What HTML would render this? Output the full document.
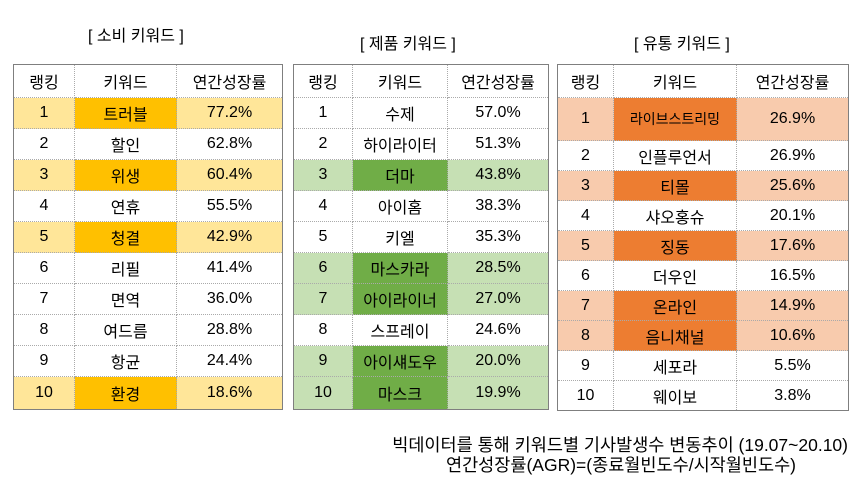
<!DOCTYPE html>
<html><head><meta charset="utf-8"><style>
body{margin:0;width:862px;height:496px;background:#fff;position:relative;font-family:"Liberation Sans","Noto Sans CJK KR",sans-serif;color:#000;overflow:hidden}
.t{position:absolute;font-size:16px}
table{position:absolute;border-collapse:collapse;table-layout:fixed;border:1px solid #7f7f7f;font-size:16px;font-family:"Liberation Sans","Noto Sans CJK KR",sans-serif}
td{text-align:center;padding:0;border:1px dotted #aaa;}
.y td{background:#FFE699}.y td.k{background:#FFC000}
.g td{background:#C6E0B4}.g td.k{background:#70AD47}
.o td{background:#F8CBAD}.o td.k{background:#ED7D31}
</style></head><body>
<div class="t" style="left:88px;top:22px">[ 소비 키워드 ]</div>
<div class="t" style="left:360px;top:30px">[ 제품 키워드 ]</div>
<div class="t" style="left:634px;top:30px">[ 유통 키워드 ]</div>

<table style="left:13px;top:64px;width:269px">
<colgroup><col style="width:61px"><col style="width:102px"><col style="width:106px"></colgroup>
<tr style="height:33px"><td>랭킹</td><td>키워드</td><td>연간성장률</td></tr>
<tr class="y" style="height:31px"><td>1</td><td class="k">트러블</td><td>77.2%</td></tr>
<tr style="height:31px"><td>2</td><td>할인</td><td>62.8%</td></tr>
<tr class="y" style="height:31px"><td>3</td><td class="k">위생</td><td>60.4%</td></tr>
<tr style="height:31px"><td>4</td><td>연휴</td><td>55.5%</td></tr>
<tr class="y" style="height:31px"><td>5</td><td class="k">청결</td><td>42.9%</td></tr>
<tr style="height:31px"><td>6</td><td>리필</td><td>41.4%</td></tr>
<tr style="height:31px"><td>7</td><td>면역</td><td>36.0%</td></tr>
<tr style="height:31px"><td>8</td><td>여드름</td><td>28.8%</td></tr>
<tr style="height:31px"><td>9</td><td>항균</td><td>24.4%</td></tr>
<tr class="y" style="height:33px"><td>10</td><td class="k">환경</td><td>18.6%</td></tr>
</table>

<table style="left:293px;top:64px;width:255px">
<colgroup><col style="width:59px"><col style="width:95px"><col style="width:101px"></colgroup>
<tr style="height:33px"><td>랭킹</td><td>키워드</td><td>연간성장률</td></tr>
<tr style="height:31px"><td>1</td><td>수제</td><td>57.0%</td></tr>
<tr style="height:31px"><td>2</td><td>하이라이터</td><td>51.3%</td></tr>
<tr class="g" style="height:31px"><td>3</td><td class="k">더마</td><td>43.8%</td></tr>
<tr style="height:31px"><td>4</td><td>아이홈</td><td>38.3%</td></tr>
<tr style="height:31px"><td>5</td><td>키엘</td><td>35.3%</td></tr>
<tr class="g" style="height:31px"><td>6</td><td class="k">마스카라</td><td>28.5%</td></tr>
<tr class="g" style="height:31px"><td>7</td><td class="k">아이라이너</td><td>27.0%</td></tr>
<tr style="height:31px"><td>8</td><td>스프레이</td><td>24.6%</td></tr>
<tr class="g" style="height:31px"><td>9</td><td class="k">아이섀도우</td><td>20.0%</td></tr>
<tr class="g" style="height:33px"><td>10</td><td class="k">마스크</td><td>19.9%</td></tr>
</table>

<table style="left:557px;top:64px;width:291px">
<colgroup><col style="width:56px"><col style="width:123px"><col style="width:112px"></colgroup>
<tr style="height:33px"><td>랭킹</td><td>키워드</td><td>연간성장률</td></tr>
<tr class="o" style="height:43px"><td>1</td><td class="k" style="font-size:14px">라이브스트리밍</td><td>26.9%</td></tr>
<tr style="height:30px"><td>2</td><td>인플루언서</td><td>26.9%</td></tr>
<tr class="o" style="height:30px"><td>3</td><td class="k">티몰</td><td>25.6%</td></tr>
<tr style="height:30px"><td>4</td><td>샤오홍슈</td><td>20.1%</td></tr>
<tr class="o" style="height:30px"><td>5</td><td class="k">징동</td><td>17.6%</td></tr>
<tr style="height:30px"><td>6</td><td>더우인</td><td>16.5%</td></tr>
<tr class="o" style="height:30px"><td>7</td><td class="k">온라인</td><td>14.9%</td></tr>
<tr class="o" style="height:30px"><td>8</td><td class="k">음니채널</td><td>10.6%</td></tr>
<tr style="height:30px"><td>9</td><td>세포라</td><td>5.5%</td></tr>
<tr style="height:30px"><td>10</td><td>웨이보</td><td>3.8%</td></tr>
</table>

<div class="t" style="right:14px;top:435px;text-align:right;line-height:20px;font-size:17.5px">빅데이터를 통해 키워드별 기사발생수 변동추이 (19.07~20.10)<br><span style="margin-right:52px">연간성장률(AGR)=(종료월빈도수/시작월빈도수)</span></div>
</body></html>
